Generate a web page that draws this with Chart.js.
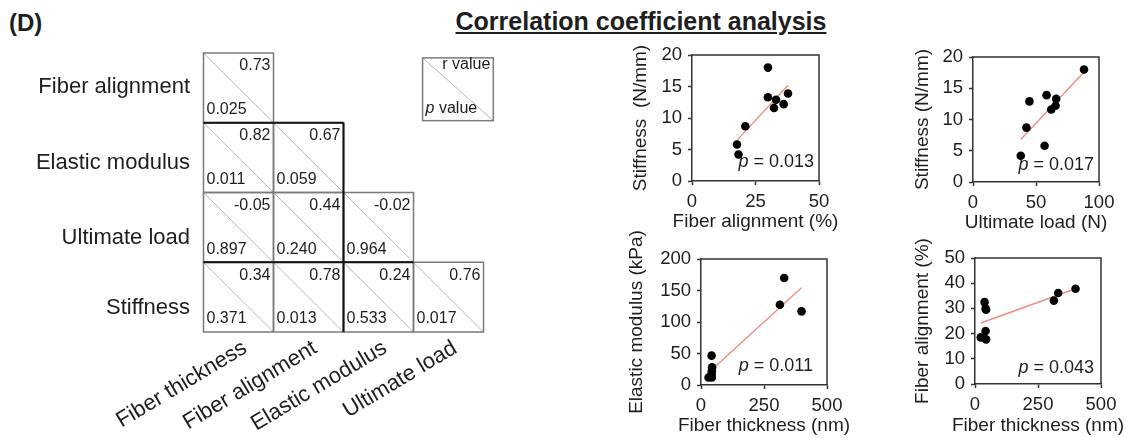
<!DOCTYPE html>
<html>
<head>
<meta charset="utf-8">
<script src="https://cdn.jsdelivr.net/npm/chart.js@4.4.1/dist/chart.umd.min.js"></script>
<style>
  html, body { margin: 0; padding: 0; background: #fff; }
  #page { position: relative; width: 1126px; height: 438px; overflow: hidden; color: #1e1e1e;
          font-family: Arial, "Liberation Sans", sans-serif; }
  #panel { position: absolute; left: 9px; top: 11px; font-size: 24px; font-weight: bold; line-height: 1; }
  #title { position: absolute; left: 341px; width: 600px; top: 9px; text-align: center;
           font-size: 25px; font-weight: bold; line-height: 1; text-decoration: underline; }
  canvas { position: absolute; }
</style>
</head>
<body>
<div id="page">
  <div id="panel">(D)</div>
  <div id="title">Correlation coefficient analysis</div>
  <canvas id="matrix"></canvas>
  <canvas id="sc1"></canvas>
  <canvas id="sc2"></canvas>
  <canvas id="sc3"></canvas>
  <canvas id="sc4"></canvas>
</div>
<script>
// ---- data ----
const rowLabels = ['Fiber alignment', 'Elastic modulus', 'Ultimate load', 'Stiffness'];
const colLabels = ['Fiber thickness', 'Fiber alignment', 'Elastic modulus', 'Ultimate load'];
const rValues = [
  [0.73],
  [0.82, 0.67],
  [-0.05, 0.44, -0.02],
  [0.34, 0.78, 0.24, 0.76],
];
const pValues = [
  [0.025],
  [0.011, 0.059],
  [0.897, 0.240, 0.964],
  [0.371, 0.013, 0.533, 0.017],
];

// stiffness vs fiber alignment / ultimate load (same samples)
const stiffness = [18.0, 13.3, 12.9, 11.6, 12.2, 13.9, 8.7, 5.8, 4.2];
const fiberAlignment = [29.9, 29.9, 33.1, 32.3, 36.1, 37.8, 21.0, 17.7, 18.3];
const ultimateLoad = [88.1, 66.0, 44.8, 62.1, 65.5, 58.4, 42.4, 56.8, 37.9];

// elastic modulus vs fiber thickness
const thicknessE = [399, 330, 313, 42, 44, 43, 42, 30, 43];
const elasticModulus = [116.9, 169.8, 127.5, 46.6, 28, 22, 17, 12, 12];

// fiber alignment vs fiber thickness
const thicknessA = [399, 330, 313, 38, 42, 44, 42, 23, 44];
const alignmentA = [37.8, 36.1, 33.1, 32.5, 29.9, 29.5, 21.0, 18.5, 17.7];

// regression line end points
const fit1X = [17.7, 37.8], fit1Y = [6.45, 15.2];
const fit2X = [37.9, 88.2], fit2Y = [6.8, 17.6];
const fit3X = [25, 399], fit3Y = [17.9, 154.3];
const fit4X = [23, 399], fit4Y = [24.2, 37.8];

const pLabels = ['0.013', '0.017', '0.011', '0.043'];

// ---- shared look ----
const FONT = 'Arial, "Liberation Sans", sans-serif';
const INK = '#1e1e1e';
Chart.defaults.font.family = FONT;
Chart.defaults.color = INK;

const pts = (xs, ys) => xs.map((x, i) => ({ x, y: ys[i] }));

// ---- correlation matrix ----
const matrixPlugin = {
  id: 'corrMatrix',
  afterDraw(chart) {
    const { ctx, scales: { x, y } } = chart;
    const px = v => x.getPixelForValue(v);
    const py = v => y.getPixelForValue(v);
    const seg = (x1, y1, x2, y2) => { ctx.beginPath(); ctx.moveTo(x1, y1); ctx.lineTo(x2, y2); ctx.stroke(); };
    const labelShift = [-1, 5, 11, 11];

    ctx.save();
    ctx.fillStyle = INK;
    rowLabels.forEach((label, i) => {
      for (let j = 0; j <= i; j++) {
        const l = px(j), r = px(j + 1), t = py(i), b = py(i + 1);
        ctx.strokeStyle = '#b8b8b8'; ctx.lineWidth = 1;
        seg(l, t, r, b);
        ctx.strokeStyle = '#7a7a7a'; ctx.lineWidth = 1.5;
        ctx.strokeRect(l, t, r - l, b - t);
        ctx.font = '16px ' + FONT;
        ctx.textBaseline = 'middle';
        ctx.textAlign = 'right';
        ctx.fillText(rValues[i][j].toFixed(2), r - 3, t + 13);
        ctx.textAlign = 'left';
        ctx.fillText(pValues[i][j].toFixed(3), l + 3, b - 13);
      }
      ctx.font = '22px ' + FONT;
      ctx.textAlign = 'right';
      ctx.textBaseline = 'middle';
      ctx.fillText(label, px(0) - 13.5, py(i + 0.5) + labelShift[i]);
    });

    // darker edges between blocks
    ctx.strokeStyle = '#111'; ctx.lineWidth = 2;
    seg(px(0), py(1), px(2), py(1));
    seg(px(2), py(1), px(2), py(4));
    seg(px(0), py(3), px(3), py(3));

    // rotated column labels
    ctx.font = '22px ' + FONT;
    colLabels.forEach((label, j) => {
      ctx.save();
      ctx.translate(px(j + 0.5) + 1, py(4) + 5);
      ctx.rotate(-31 * Math.PI / 180);
      ctx.textAlign = 'right';
      ctx.textBaseline = 'top';
      ctx.fillText(label, 0, 0);
      ctx.restore();
    });

    // key box
    const kl = px(3.13), kr = px(4.14), kt = py(0.07), kb = py(0.97);
    ctx.strokeStyle = '#b8b8b8'; ctx.lineWidth = 1;
    seg(kl, kt, kr, kb);
    ctx.strokeStyle = '#7a7a7a'; ctx.lineWidth = 1.5;
    ctx.strokeRect(kl, kt, kr - kl, kb - kt);
    ctx.font = '16px ' + FONT;
    ctx.textBaseline = 'middle';
    ctx.textAlign = 'right';
    ctx.fillText('r value', kr - 3, kt + 7);
    ctx.textAlign = 'left';
    ctx.font = 'italic 16px ' + FONT;
    ctx.fillText('p', kl + 3, kb - 12);
    const pw = ctx.measureText('p').width;
    ctx.font = '16px ' + FONT;
    ctx.fillText(' value', kl + 3 + pw, kb - 12);
    ctx.restore();
  },
};

const mCanvas = document.getElementById('matrix');
mCanvas.width = 600; mCanvas.height = 438;
mCanvas.style.left = '0px'; mCanvas.style.top = '0px';
new Chart(mCanvas, {
  type: 'scatter',
  data: { datasets: [{ data: [] }] },
  options: {
    responsive: false,
    animation: false,
    layout: { padding: { left: 203.5, right: 116.5, top: 53, bottom: 106 } },
    plugins: { legend: { display: false }, tooltip: { enabled: false } },
    scales: {
      x: { type: 'linear', min: 0, max: 4, display: false },
      y: { type: 'linear', min: 0, max: 4, reverse: true, display: false },
    },
  },
  plugins: [matrixPlugin],
});

// ---- scatter panels ----
const framePlugin = {
  id: 'frame',
  afterDatasetsDraw(chart) {
    const { ctx, chartArea: a } = chart;
    ctx.save();
    ctx.strokeStyle = '#333';
    ctx.lineWidth = 1.5;
    ctx.beginPath();
    ctx.moveTo(a.left, a.top); ctx.lineTo(a.right, a.top); ctx.lineTo(a.right, a.bottom);
    ctx.stroke();
    ctx.restore();
  },
};

// p value inside the plot and the two axis titles
const labelsPlugin = {
  id: 'panelText',
  afterDraw(chart, args, o) {
    const { ctx, chartArea: a } = chart;
    ctx.save();
    ctx.fillStyle = INK;
    ctx.textBaseline = 'middle';

    ctx.textAlign = 'right';
    ctx.font = '18px ' + FONT;
    const xr = a.right - o.pdx, yc = a.bottom - o.pdy;
    const rest = ' = ' + o.p;
    ctx.fillText(rest, xr, yc);
    const w = ctx.measureText(rest).width;
    ctx.font = 'italic 18px ' + FONT;
    ctx.fillText('p', xr - w, yc);

    ctx.font = '19px ' + FONT;
    ctx.textAlign = 'center';
    ctx.fillText(o.xTitle, (a.left + a.right) / 2, a.bottom + o.xTitleGap);
    ctx.translate(a.left - o.yTitleGap, (a.top + a.bottom) / 2);
    ctx.rotate(-Math.PI / 2);
    ctx.fillText(o.yTitle, 0, 0);
    ctx.restore();
  },
};

function makeScatter(id, box, d) {
  const mL = 100, mT = 45, mR = 40, mB = 60;
  const yAxisW = 60, xAxisH = 40;
  const canvas = document.getElementById(id);
  canvas.width = box.right - box.left + mL + mR;
  canvas.height = box.bottom - box.top + mT + mB;
  canvas.style.left = (box.left - mL) + 'px';
  canvas.style.top = (box.top - mT) + 'px';

  const axis = (min, max, step) => ({
    type: 'linear', min, max,
    ticks: { stepSize: step, autoSkip: false, font: { size: 18.5 }, color: INK, padding: 6 },
    grid: { display: true, drawOnChartArea: false, drawTicks: true, tickLength: 4, tickColor: '#333', tickWidth: 1.5 },
    border: { display: true, color: '#333', width: 1.5 },
    title: { display: false },
  });

  const xAxis = axis(d.xRange[0], d.xRange[1], d.xRange[2]);
  xAxis.afterFit = s => { s.height = xAxisH; };
  const yAxis = axis(d.yRange[0], d.yRange[1], d.yRange[2]);
  yAxis.afterFit = s => { s.width = yAxisW; };

  new Chart(canvas, {
    type: 'scatter',
    data: {
      datasets: [
        {
          data: pts(d.xs, d.ys),
          order: 1,
          pointRadius: 4.3,
          pointBackgroundColor: '#000',
          pointBorderWidth: 0,
        },
        {
          type: 'line',
          data: pts(d.fitX, d.fitY),
          order: 2,
          borderColor: '#f28b82',
          borderWidth: 1.4,
          pointRadius: 0,
          fill: false,
        },
      ],
    },
    options: {
      responsive: false,
      animation: false,
      layout: { padding: { left: mL - yAxisW, top: mT, right: mR, bottom: mB - xAxisH } },
      plugins: {
        legend: { display: false },
        tooltip: { enabled: false },
        panelText: {
          p: d.p, pdx: d.pdx, pdy: d.pdy,
          xTitle: d.xTitle, yTitle: d.yTitle,
          xTitleGap: box.xTitleY - box.bottom, yTitleGap: box.left - box.yTitleX,
        },
      },
      scales: { x: xAxis, y: yAxis },
    },
    plugins: [framePlugin, labelsPlugin],
  });
}

makeScatter('sc1',
  { left: 692, right: 819, top: 55, bottom: 181, yTitleX: 641, xTitleY: 222 },
  { xs: fiberAlignment, ys: stiffness, fitX: fit1X, fitY: fit1Y,
    xRange: [0, 50, 25], yRange: [0, 20, 5],
    xTitle: 'Fiber alignment (%)', yTitle: 'Stiffness  (N/mm)',
    p: pLabels[0], pdx: 5, pdy: 19 });

makeScatter('sc2',
  { left: 973, right: 1099, top: 57, bottom: 182, yTitleX: 923, xTitleY: 223 },
  { xs: ultimateLoad, ys: stiffness, fitX: fit2X, fitY: fit2Y,
    xRange: [0, 100, 50], yRange: [0, 20, 5],
    xTitle: 'Ultimate load (N)', yTitle: 'Stiffness (N/mm)',
    p: pLabels[1], pdx: 5, pdy: 17 });

makeScatter('sc3',
  { left: 701, right: 827, top: 259, bottom: 385, yTitleX: 637, xTitleY: 426 },
  { xs: thicknessE, ys: elasticModulus, fitX: fit3X, fitY: fit3Y,
    xRange: [0, 500, 250], yRange: [0, 200, 50],
    xTitle: 'Fiber thickness (nm)', yTitle: 'Elastic modulus (kPa)',
    p: pLabels[2], pdx: 14, pdy: 19 });

makeScatter('sc4',
  { left: 975, right: 1101, top: 258, bottom: 384, yTitleX: 923, xTitleY: 426 },
  { xs: thicknessA, ys: alignmentA, fitX: fit4X, fitY: fit4Y,
    xRange: [0, 500, 250], yRange: [0, 50, 10],
    xTitle: 'Fiber thickness (nm)', yTitle: 'Fiber alignment (%)',
    p: pLabels[3], pdx: 7, pdy: 16 });
</script>
</body>
</html>
